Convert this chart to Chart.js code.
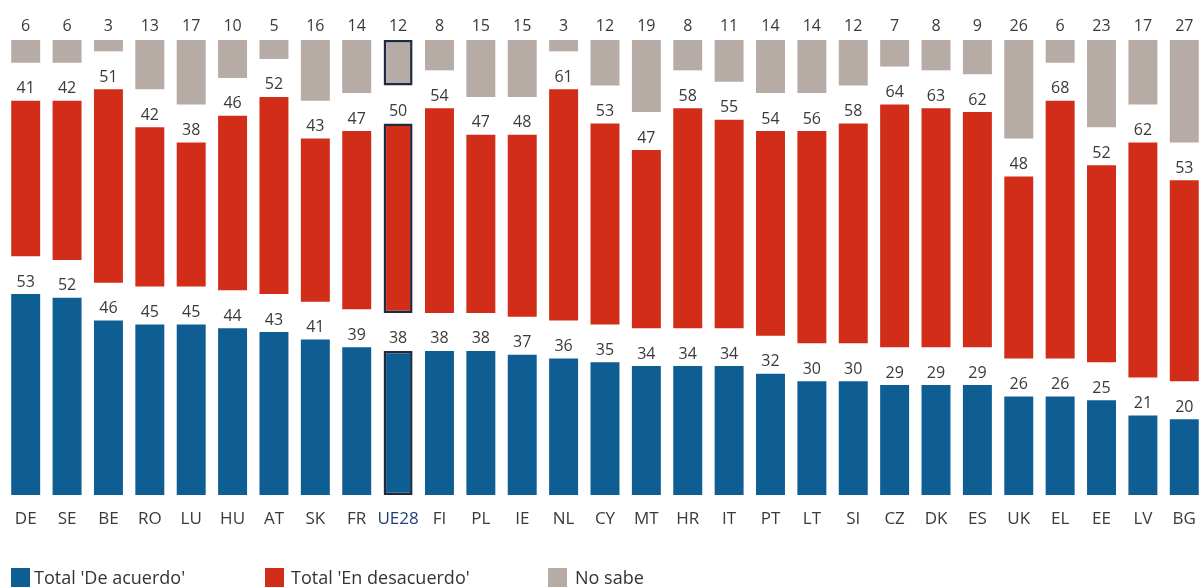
<!DOCTYPE html>
<html>
<head>
<meta charset="utf-8">
<script src="https://cdn.jsdelivr.net/npm/chart.js@4/dist/chart.umd.min.js"></script>
<style>
  body { margin: 0; overflow: hidden; background: #fff; }
  #wrap { position: relative; width: 1203px; height: 587px; overflow: hidden; }
  #chart { position: absolute; left: 0; top: 0; }
  .leg { position: absolute; top: 565px; font-family: "Open Sans", sans-serif; font-size: 18px; color: #333; white-space: nowrap; }
  .sq { position: absolute; top: 568px; width: 19px; height: 19px; }
</style>
</head>
<body>
<div id="wrap">
  <canvas id="chart" width="1210" height="587"></canvas>
  <div class="sq" style="left:11px;background:#0f5e93"></div>
  <div class="leg" style="left:34px">Total 'De acuerdo'</div>
  <div class="sq" style="left:265px;background:#d22d18"></div>
  <div class="leg" style="left:291px">Total 'En desacuerdo'</div>
  <div class="sq" style="left:548px;background:#b7aba6"></div>
  <div class="leg" style="left:575px">No sabe</div>
</div>
<script>
const countries = ["DE", "SE", "BE", "RO", "LU", "HU", "AT", "SK", "FR", "UE28", "FI", "PL", "IE", "NL", "CY",
  "MT", "HR", "IT", "PT", "LT", "SI", "CZ", "DK", "ES", "UK", "EL", "EE", "LV", "BG"];
const deAcuerdo = [53, 52, 46, 45, 45, 44, 43, 41, 39, 38, 38, 38, 37, 36, 35,
  34, 34, 34, 32, 30, 30, 29, 29, 29, 26, 26, 25, 21, 20];
const enDesacuerdo = [41, 42, 51, 42, 38, 46, 52, 43, 47, 50, 54, 47, 48, 61, 53,
  47, 58, 55, 54, 56, 58, 64, 63, 62, 48, 68, 52, 62, 53];
const noSabe = [6, 6, 3, 13, 17, 10, 5, 16, 14, 12, 8, 15, 15, 3, 12,
  19, 8, 11, 14, 14, 12, 7, 8, 9, 26, 6, 23, 17, 27];

const TOP = 120;   // top of the value scale, gray bars hang from here
const GAP = 10;    // space left between blue and red bars for the labels
const EU = countries.indexOf("UE28");

const borderCol = countries.map((c, i) => (i === EU ? "#1e2a40" : "rgba(0,0,0,0)"));
const borderW = countries.map((c, i) => (i === EU ? 2.5 : 0));

// value labels above each bar
const valueLabels = {
  id: "valueLabels",
  afterDatasetsDraw(chart) {
    const ctx = chart.ctx;
    ctx.save();
    ctx.font = "16px 'Open Sans'";
    ctx.fillStyle = "#3a3a3a";
    ctx.textAlign = "center";
    ctx.textBaseline = "middle";
    chart.data.datasets.forEach((ds, di) => {
      const meta = chart.getDatasetMeta(di);
      meta.data.forEach((bar, i) => {
        const y = di === 2 ? chart.chartArea.top - 13.5 : bar.y - 12;
        ctx.fillText(ds.raw[i], bar.x, y);
      });
    });
    ctx.restore();
  },
};

new Chart(document.getElementById("chart"), {
  type: "bar",
  data: {
    labels: countries,
    datasets: [
      {
        label: "Total 'De acuerdo'",
        raw: deAcuerdo,
        data: deAcuerdo.map((v) => [0, v]),
        backgroundColor: "#0f5e93",
        borderColor: borderCol,
        borderWidth: borderW,
      },
      {
        label: "Total 'En desacuerdo'",
        raw: enDesacuerdo,
        data: enDesacuerdo.map((v, i) => [deAcuerdo[i] + GAP, deAcuerdo[i] + GAP + v]),
        backgroundColor: "#d22d18",
        borderColor: borderCol,
        borderWidth: borderW,
      },
      {
        label: "No sabe",
        raw: noSabe,
        data: noSabe.map((v) => [TOP - v, TOP]),
        backgroundColor: "#b7aba6",
        borderColor: borderCol,
        borderWidth: borderW,
      },
    ],
  },
  options: {
    responsive: false,
    animation: false,
    devicePixelRatio: 1,
    barPercentage: 0.7,
    categoryPercentage: 1.0,
    borderSkipped: false,
    layout: { padding: { left: 5, right: 3, top: 40, bottom: 0 } },
    plugins: {
      legend: { display: false },
      tooltip: { enabled: false },
    },
    scales: {
      x: {
        stacked: true,
        grid: { display: false, drawTicks: false },
        border: { display: false },
        ticks: {
          padding: 14,
          autoSkip: false,
          maxRotation: 0,
          font: { family: "'Open Sans'", size: 17 },
          color: (c) => (c.index === EU ? "#1f3f7a" : "#3a3a3a"),
        },
        afterFit(scale) {
          scale.height = 92;
        },
      },
      y: {
        display: false,
        min: 0,
        max: TOP,
      },
    },
  },
  plugins: [valueLabels],
});
</script>
</body>
</html>
